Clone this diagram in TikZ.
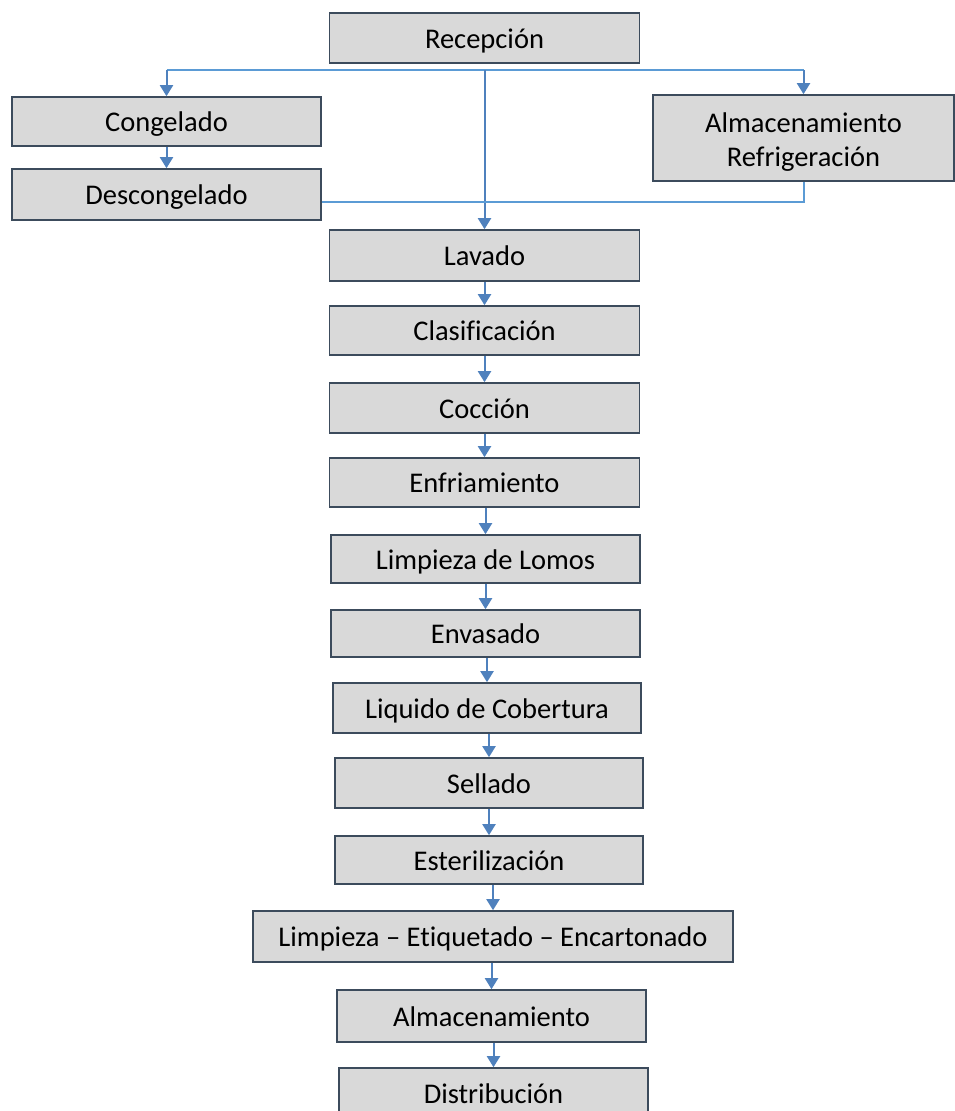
\documentclass[tikz,border=0pt]{standalone}
\usepackage{fontspec}
\setmainfont[Ligatures=NoCommon]{Carlito}
\usepackage{tikz}
\usetikzlibrary{calc,positioning,arrows.meta}
\definecolor{boxfill}{HTML}{D9D9D9}
\definecolor{boxline}{HTML}{3C4B5C}
\definecolor{arrcol}{HTML}{4F81BD}
\definecolor{linecol}{HTML}{5B9BD5}

\begin{document}
\begin{tikzpicture}[x=1pt,y=-1pt,
  stage/.style={draw=boxline,line width=1.6pt,fill=boxfill,minimum width=310pt,minimum height=50pt,inner sep=0pt,text height=24pt,text depth=4pt,align=center,font=\fontsize{28.5}{34}\selectfont},
  arr/.style={draw=arrcol,line width=2pt,-{Triangle[width=13pt,length=11pt]}},
  link/.style={draw=linecol,line width=2pt}]
  \useasboundingbox (0,0) rectangle (955,1111);

  \node[stage] (rec) at (484.5,38) {Recepción};
  \node[stage,minimum width=309pt,minimum height=49pt] (cong) at (166.5,121.5) {Congelado};
  \node[stage,minimum width=309pt,minimum height=51pt] (desc) at (166.5,194.5) {Descongelado};
  \node[stage,minimum width=301pt,minimum height=86pt,text height=58pt,text depth=2pt] (almr) at (803.5,138) {Almacenamiento\\Refrigeración};

  \node[stage,minimum height=51pt] (lav) at (484.5,255.5) {Lavado};
  \node[stage,minimum height=49pt] (clas) at (484.5,330.5) {Clasificación};
  \node[stage] (cocc) at (484.5,408) {Cocción};
  \node[stage,minimum height=49pt] (enfr) at (484.5,482.5) {Enfriamiento};
  \node[stage,minimum width=309pt,minimum height=48pt] (lomos) at (485.5,559) {Limpieza de Lomos};
  \node[stage,minimum width=309pt,minimum height=47pt] (envas) at (485.5,633.5) {Envasado};
  \node[stage,minimum width=308pt] (liq) at (487,708) {Liquido de Cobertura};
  \node[stage,minimum width=308pt] (sell) at (489,783) {Sellado};
  \node[stage,minimum width=308pt,minimum height=48pt] (este) at (489,860) {Esterilización};
  \node[stage,minimum width=480pt,minimum height=51pt] (etiq) at (493,936.5) {Limpieza -- Etiquetado -- Encartonado};
  \node[stage,minimum width=309pt,minimum height=52pt] (alm) at (491.5,1016) {Almacenamiento};
  \node[stage,minimum width=309pt] (dist) at (493.5,1093) {Distribución};

  % reparto tras la recepcion
  \coordinate (split) at (484.5,70);
  \draw[link] (cong.north |- split) -- (almr.north |- split);
  \draw[arr] (cong.north |- split) -- (cong.north);
  \draw[arr] (almr.north |- split) -- (almr.north);
  \draw[arr] (split) -- (lav.north);
  \draw[arr] (cong) -- (desc);
  \draw[link] ([yshift=-7pt]desc.east) -| (almr.south);

  % linea principal
  \foreach \a/\b in {lav/clas,clas/cocc,cocc/enfr,enfr/lomos,lomos/envas,envas/liq,liq/sell,sell/este,este/etiq,etiq/alm,alm/dist}
    \draw[arr] (\b.north |- \a.south) -- (\b.north);
\end{tikzpicture}
\end{document}
